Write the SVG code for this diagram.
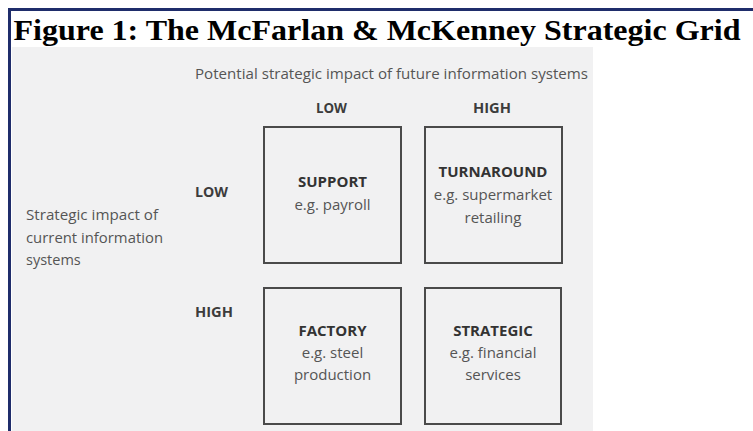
<svg xmlns="http://www.w3.org/2000/svg" width="753" height="431" viewBox="0 0 753 431">
  <style>
    .title { font-family: "Liberation Serif", "Times New Roman", serif; font-weight: bold; font-size: 30px; fill: #000; }
    .lbl { font-family: "Open Sans", "DejaVu Sans", sans-serif; font-size: 14.5px; fill: #555; }
    .hdr { font-family: "Open Sans", "DejaVu Sans", sans-serif; font-size: 13.5px; font-weight: bold; fill: #3c3c3c; }
    .name { font-family: "Open Sans", "DejaVu Sans", sans-serif; font-size: 15px; font-weight: bold; fill: #333; text-anchor: middle; }
    .ex { font-family: "Open Sans", "DejaVu Sans", sans-serif; font-size: 15px; fill: #555; text-anchor: middle; }
    .box { fill: none; stroke: #4a4a4a; stroke-width: 2; }
  </style>
  <rect x="0" y="0" width="753" height="431" fill="#ffffff"/>
  <!-- frame -->
  <rect x="9.5" y="9.5" width="760" height="440" fill="none" stroke="#1f2d6b" stroke-width="3"/>
  <text class="title" x="13.5" y="40" textLength="727" lengthAdjust="spacingAndGlyphs">Figure 1: The McFarlan &amp; McKenney Strategic Grid</text>
  <!-- scanned picture background -->
  <rect x="12" y="47" width="581" height="384" fill="#f1f1f2"/>
  <text class="lbl" x="195" y="79" textLength="393" lengthAdjust="spacingAndGlyphs">Potential strategic impact of future information systems</text>
  <text class="hdr" x="316" y="113" textLength="31" lengthAdjust="spacingAndGlyphs">LOW</text>
  <text class="hdr" x="473" y="113" textLength="38" lengthAdjust="spacingAndGlyphs">HIGH</text>
  <text class="hdr" x="195" y="197" textLength="33" lengthAdjust="spacingAndGlyphs">LOW</text>
  <text class="hdr" x="195" y="317" textLength="38" lengthAdjust="spacingAndGlyphs">HIGH</text>
  <text class="lbl" x="26" y="220" textLength="132" lengthAdjust="spacingAndGlyphs">Strategic impact of</text>
  <text class="lbl" x="26" y="242.5" textLength="137" lengthAdjust="spacingAndGlyphs">current information</text>
  <text class="lbl" x="26" y="265">systems</text>
  <g id="support">
    <rect class="box" x="264" y="127" width="137" height="136"/>
    <text class="name" x="332.5" y="187">SUPPORT</text>
    <text class="ex" x="332.5" y="210">e.g. payroll</text>
  </g>
  <g id="turnaround">
    <rect class="box" x="425" y="127" width="137" height="136"/>
    <text class="name" x="493" y="177">TURNAROUND</text>
    <text class="ex" x="493" y="200">e.g. supermarket</text>
    <text class="ex" x="493" y="223">retailing</text>
  </g>
  <g id="factory">
    <rect class="box" x="264" y="288" width="137" height="136"/>
    <text class="name" x="332.5" y="336">FACTORY</text>
    <text class="ex" x="332.5" y="358">e.g. steel</text>
    <text class="ex" x="332.5" y="380">production</text>
  </g>
  <g id="strategic">
    <rect class="box" x="425" y="288" width="136" height="136"/>
    <text class="name" x="493" y="336">STRATEGIC</text>
    <text class="ex" x="493" y="358">e.g. financial</text>
    <text class="ex" x="493" y="380">services</text>
  </g>
  <g id="connectors"></g>
</svg>
